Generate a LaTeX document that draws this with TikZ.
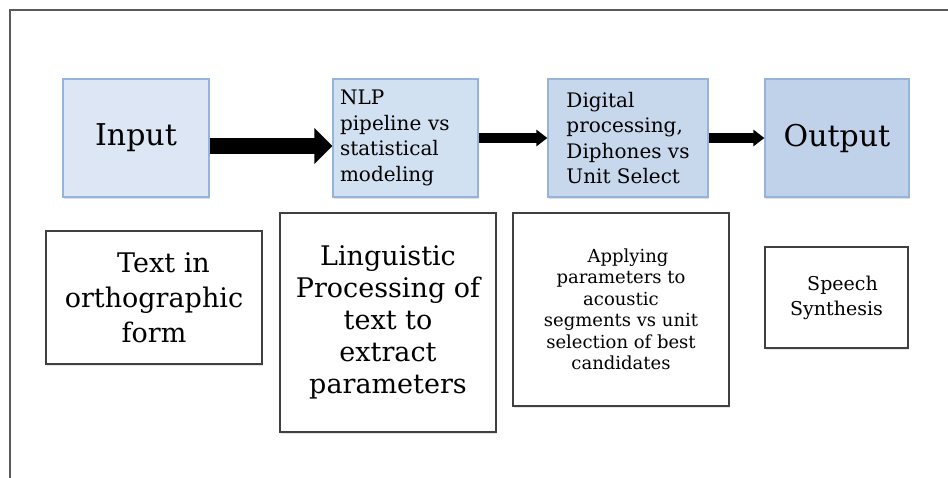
\documentclass[tikz,border=0pt]{standalone}
\usepackage{fontspec}
\setmainfont{DejaVu Serif}
\usetikzlibrary{arrows.meta,shadows}
\definecolor{bluefillA}{RGB}{220,230,244}
\definecolor{bluefillB}{RGB}{210,225,242}
\definecolor{bluefillC}{RGB}{199,215,236}
\definecolor{bluefillD}{RGB}{191,210,234}
\definecolor{blueedge}{RGB}{150,180,218}
\definecolor{frameline}{RGB}{90,90,90}
\tikzset{
  topbox/.style={draw=blueedge, line width=1.2pt, minimum height=118pt, inner sep=0pt,
    drop shadow={shadow xshift=1pt, shadow yshift=-2pt, opacity=0.25, fill=black!50}},
  botbox/.style={draw=black!75, fill=white, line width=1.4pt, inner sep=0pt, align=center,
    drop shadow={shadow xshift=1pt, shadow yshift=-2pt, opacity=0.2, fill=black!50}},
  bigarrow/.style={line width=16pt, -{Triangle[width=35pt,length=18pt]}},
  smallarrow/.style={line width=10pt, -{Triangle[width=16pt,length=11pt]}},
}
\begin{document}
\begin{tikzpicture}[x=1pt,y=-1pt]
\useasboundingbox (0,0) rectangle (948,478);
\draw[frameline, line width=2pt] (10,478) -- (10,10) -- (948,10);

% top row
\node[topbox, fill=bluefillA, minimum width=146pt, font=\fontsize{30}{36}\selectfont] (input) at (136,138) {Input};
\node[topbox, fill=bluefillB, text width=131pt, inner xsep=7pt, align=left,
      font=\fontsize{20}{25.5}\selectfont] (nlp) at (405.5,138) {NLP\\pipeline vs\\statistical\\modeling};
\node[topbox, fill=bluefillC, minimum width=160pt, align=left,
      font=\fontsize{20}{25.5}\selectfont] (dig) at (628,138) {Digital\\processing,\\Diphones vs\\Unit Select};
\node[topbox, fill=bluefillD, minimum width=144pt, font=\fontsize{30}{36}\selectfont] (output) at (837,138) {Output};

% arrows
\draw[bigarrow] ([yshift=-8pt]input.east) -- ([yshift=-8pt]nlp.west);
\draw[smallarrow] (nlp.east) -- (dig.west);
\draw[smallarrow] (dig.east) -- (output.west);

% bottom row
\node[botbox, minimum width=216pt, minimum height=133pt, font=\fontsize{27}{35}\selectfont] (txt) at (154,297.5)
  {\hspace*{19pt}Text in\\orthographic\\form};
\node[botbox, minimum width=216pt, minimum height=219pt, font=\fontsize{27}{32}\selectfont] (ling) at (388,322.5)
  {Linguistic\\Processing of\\text to\\extract\\parameters};
\node[botbox, minimum width=216pt, minimum height=193pt, font=\fontsize{18}{21.5}\selectfont] (apply) at (621,309.5)
  {\hspace*{14pt}Applying\\parameters to\\acoustic\\segments vs unit\\selection of best\\candidates};
\node[botbox, minimum width=143pt, minimum height=101pt, font=\fontsize{19}{25}\selectfont] (speech) at (836.5,297.5)
  {\hspace*{12pt}Speech\\Synthesis};
\end{tikzpicture}
\end{document}
